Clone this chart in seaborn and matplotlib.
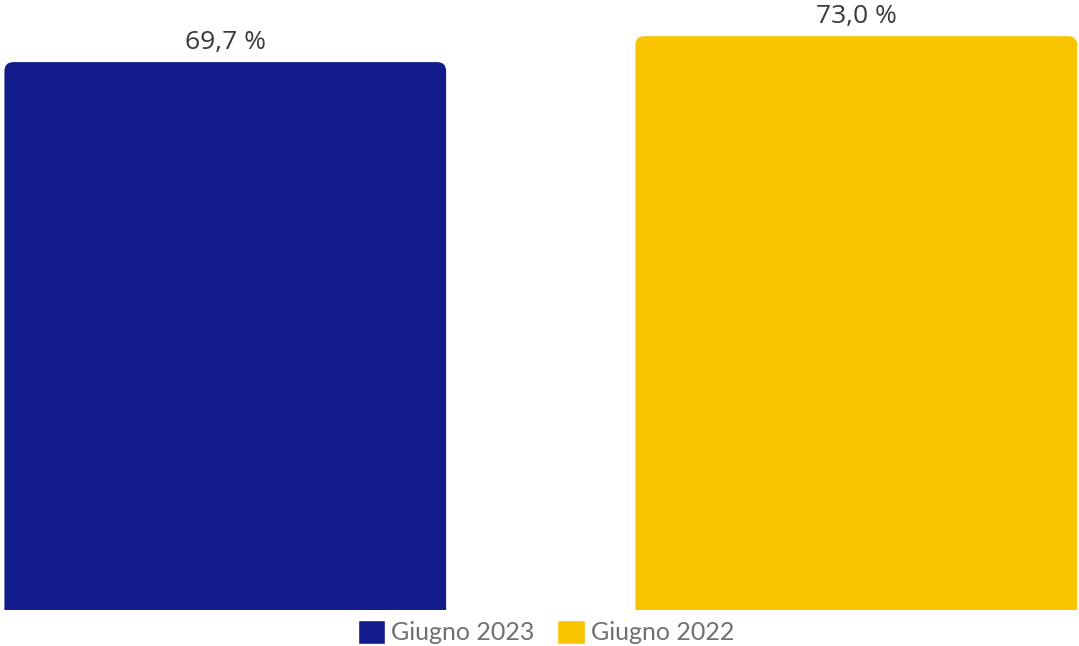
import pandas as pd
import matplotlib
matplotlib.use("Agg")
import matplotlib.pyplot as plt
import seaborn as sns
from matplotlib.patches import FancyBboxPatch

# dati
categorie = ["Giugno 2023", "Giugno 2022"]
valori = [69.7, 73.0]
etichette = ["69,7 %", "73,0 %"]
colori = ["#131c8b", "#f8c400"]

df = pd.DataFrame({"periodo": categorie, "valore": valori})

sns.set_style("white")
plt.rcParams["font.family"] = ["Open Sans", "DejaVu Sans"]

fig = plt.figure(figsize=(10.79, 6.46), dpi=100)
ax = fig.add_axes([0, 36 / 646, 1, 610 / 646])

sns.barplot(data=df, x="periodo", y="valore", hue="periodo", palette=colori,
            width=0.70, legend=True, ax=ax, saturation=1)

ax.set_xlim(-0.357, 1.353)
ax.set_ylim(0, 77.6)

# barre con angoli superiori arrotondati
px_x = (1.353 + 0.357) / 1079
px_y = 77.6 / 610
r = 9 * px_x
for bar, col in zip(ax.patches[:2], colori):
    x, w, h = bar.get_x(), bar.get_width(), bar.get_height()
    bar.set_visible(False)
    fb = FancyBboxPatch((x, -5), w, h + 5,
                        boxstyle=f"round,pad=0,rounding_size={r}",
                        mutation_aspect=px_y / px_x,
                        facecolor=col, edgecolor="none")
    ax.add_patch(fb)

for i, (v, t) in enumerate(zip(valori, etichette)):
    ax.text(i, v + 0.9, t, ha="center", va="bottom", fontsize=19,
            color="#3a3a3a")

ax.set_axis_off()

leg = ax.legend(loc="center", bbox_to_anchor=(0.506, 0.022),
                bbox_transform=fig.transFigure, ncol=2, frameon=False,
                fontsize=18, handlelength=1.1, handleheight=1.1,
                handletextpad=0.25, columnspacing=0.9,
                prop={"family": ["Lato", "DejaVu Sans"], "size": 18})
for txt in leg.get_texts():
    txt.set_color("#707070")

fig.savefig("out.png", dpi=100)
